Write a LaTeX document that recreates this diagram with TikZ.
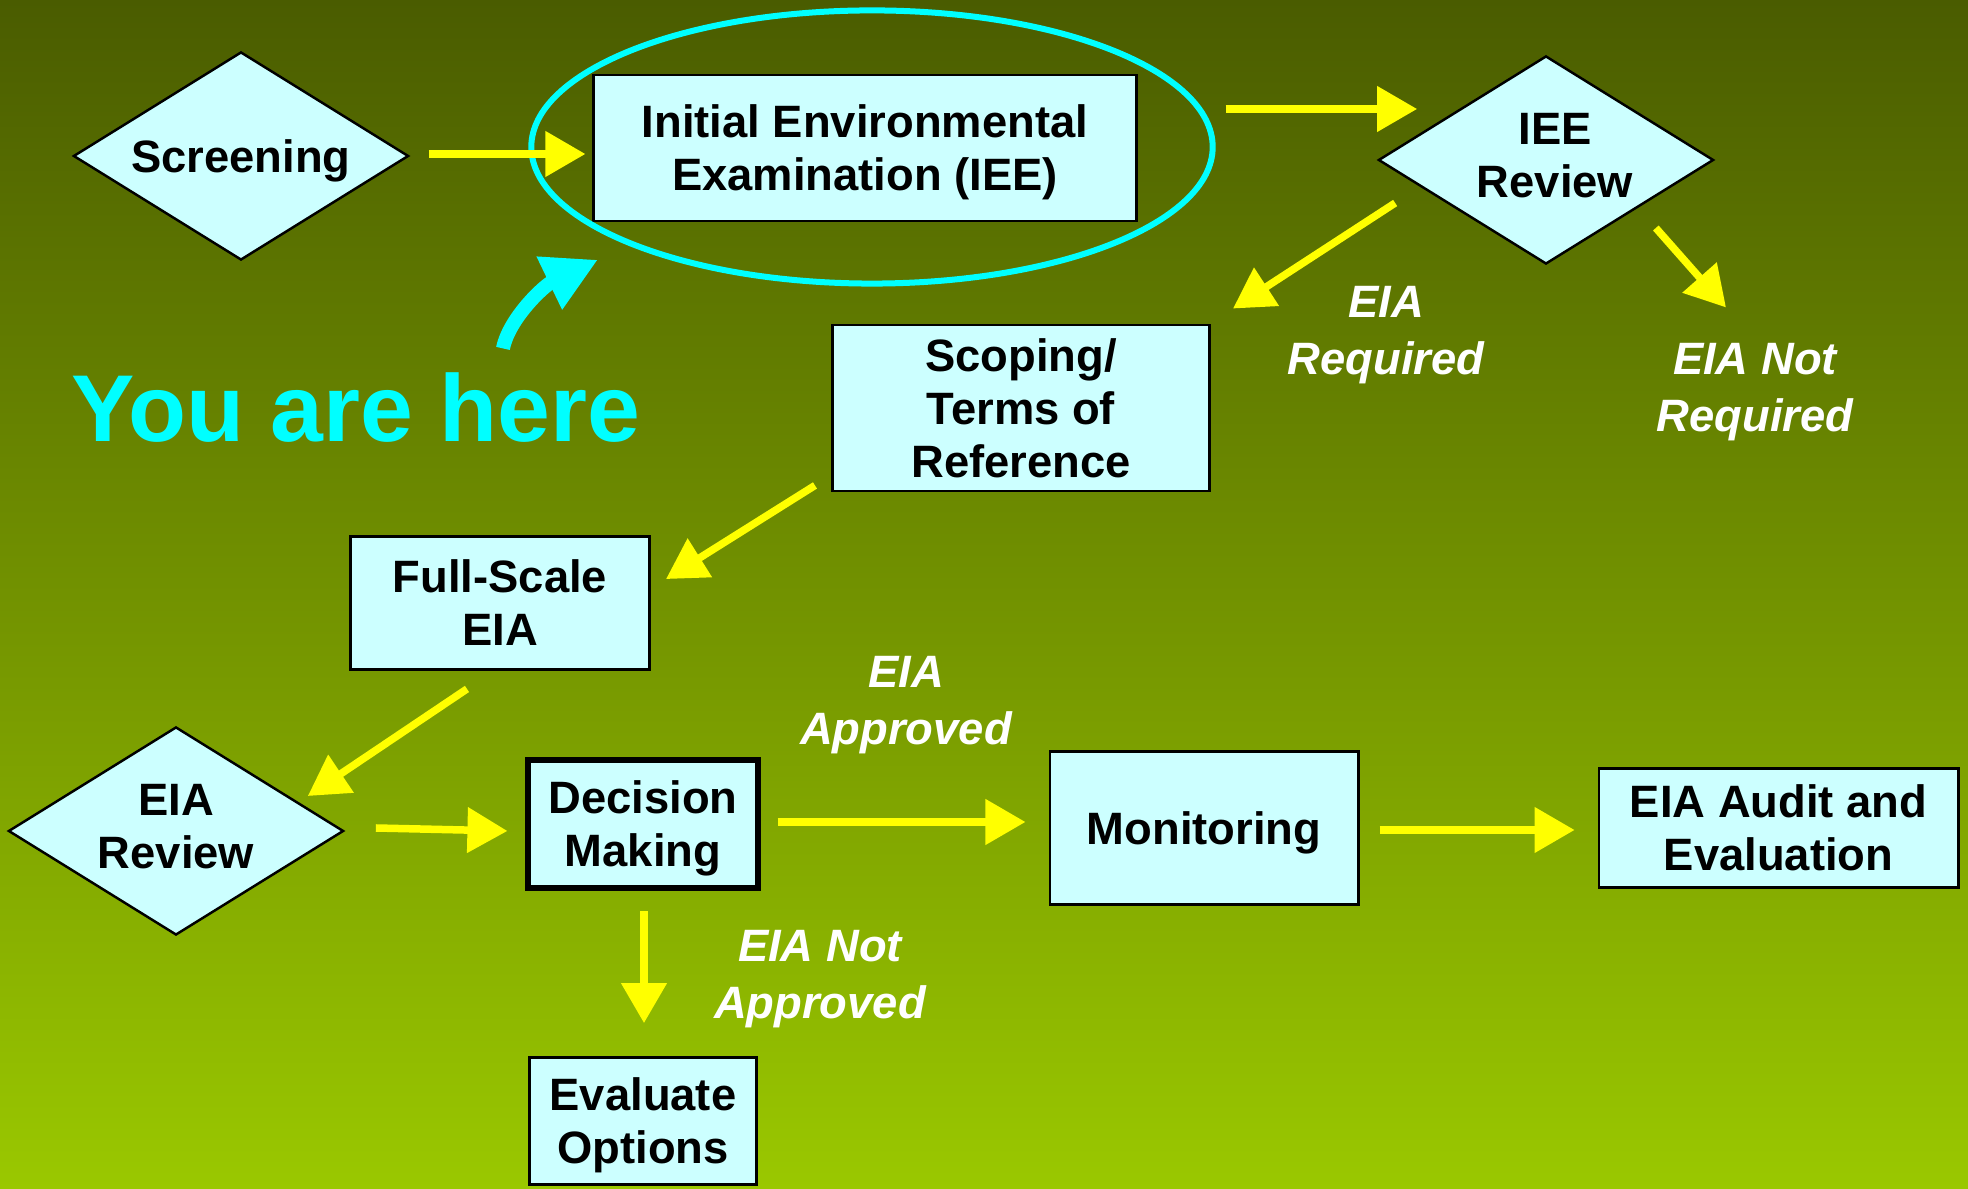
\documentclass[tikz,border=0pt]{standalone}
\usepackage{fontspec}
\setmainfont{Liberation Sans}
\usepackage{tikz}
\usetikzlibrary{positioning,shapes.geometric,arrows.meta}
\usepackage{xcolor}
\definecolor{boxfill}{HTML}{CCFFFF}
\definecolor{herecyan}{HTML}{00FFFF}
\definecolor{flowyellow}{HTML}{FFFF00}
\definecolor{bgtop}{HTML}{4A5C00}
\definecolor{bgbot}{HTML}{9AC800}
\newcommand{\boxtop}{\rule{0pt}{0.93em}}
\newcommand{\boxbot}{\rule[-0.21em]{0pt}{0.21em}}

\begin{document}
\begin{tikzpicture}[x=0.01cm, y=-0.01cm,
  box/.style={draw, fill=boxfill, line width=0.8pt, inner sep=0pt, align=center,
    font=\fontsize{12.9}{15.1}\selectfont\bfseries},
  dia/.style={diamond, draw, fill=boxfill, line width=0.7pt, inner sep=0pt, aspect=1.6,
    minimum width=3.35cm, minimum height=2.08cm, align=center,
    font=\fontsize{12.9}{15.1}\selectfont\bfseries},
  note/.style={text=white, inner sep=0pt, align=center,
    font=\fontsize{12.9}{16.2}\selectfont\bfseries\itshape},
  flow/.style={flowyellow, line width=0.075cm, -{Triangle[length=0.4cm,width=0.44cm]}}]
\useasboundingbox (0,0) rectangle (1968,1189);
\shade[top color=bgtop, bottom color=bgbot] (0,0) rectangle (1968,1189);

\node[dia] (S) at (241,156) {\boxtop Screening\boxbot};
  \node[box, minimum width=5.42cm, minimum height=1.46cm] (I) at (865,148) {\boxtop Initial Environmental\\Examination (IEE)\boxbot};
  \node[ellipse, draw=herecyan, line width=0.06cm, minimum width=6.81cm, minimum height=2.73cm] (H) at (872,147) {};
  \node[dia] (R) at (1546,160) {\hspace*{0.18cm}IEE\\\hspace*{0.18cm}Review\boxbot};
  \node[box, minimum width=3.77cm, minimum height=1.66cm] (T) at (1021,408) {\boxtop Scoping/\\Terms of\\Reference\boxbot};
  \node[box, minimum width=2.99cm, minimum height=1.33cm] (F) at (500,603) {\boxtop Full-Scale\\EIA\boxbot};
  \node[dia] (V) at (176,831) {EIA\\Review\boxbot};
  \node[box, line width=1.7pt, minimum width=2.29cm, minimum height=1.28cm] (D) at (643,824) {\boxtop Decision\\Making\boxbot};
  \node[box, minimum width=3.08cm, minimum height=1.53cm] (M) at (1204,828) {\boxtop Monitoring\boxbot};
  \node[box, minimum width=3.59cm, minimum height=1.19cm] (A) [right=2.38cm of M] {\boxtop EIA Audit and\\Evaluation\boxbot};
  \node[box, minimum width=2.27cm, minimum height=1.27cm] (O) [below=1.65cm of D] {\boxtop Evaluate\\Options\boxbot};
  \node[note] (Q) at (1386,335) {EIA\\Required};
  \node[note] (N) at (1755,392) {EIA Not\\Required};
  \node[note] (P) at (906,705) {EIA\\Approved};
  \node[note] (X) at (820,979) {EIA Not\\Approved};
  \node[text=herecyan, inner sep=0pt, font=\fontsize{27}{30}\selectfont\bfseries] (Y) at (356,408) {You are here};
   \draw[flow] ([shift={(19,-2)}]S.east) -- ([shift={(-7,6)}]I.west);
   \draw[flow] ([shift={(88,-39)}]I.east) -- ([shift={(40,-51)}]R.west);
   \draw[flow] ([shift={(18,43)}]R.west) -- ([shift={(22,-15)}]T.north east);
   \draw[flow] ([shift={(-59,68)}]R.east) -- ([shift={(-29,-35)}]N.north);
   \draw[flow] ([shift={(-16,-7)}]T.south west) -- ([shift={(15,44)}]F.north east);
   \draw[flow] ([shift={(-33,18)}]F.south) -- ([shift={(-37,-35)}]V.east);
   \draw[flow] ([shift={(31,-3)}]V.east) -- ([shift={(-18,7)}]D.west);
   \draw[flow] ([shift={(17,-2)}]D.east) -- ([shift={(-23,-6)}]M.west);
   \draw[flow] ([shift={(20,2)}]M.east) -- ([shift={(-23,2)}]A.west);
   \draw[flow] ([shift={(1,20)}]D.south) -- ([shift={(1,-33)}]O.north);
   \draw[herecyan, line width=0.14cm, -{Triangle[length=0.54cm,width=0.55cm]}] ([shift={(147,-24)}]Y.north) .. controls +(6,-30) and +(-54,26) .. ([shift={(-31,14)}]H.south west);
\end{tikzpicture}
\end{document}
